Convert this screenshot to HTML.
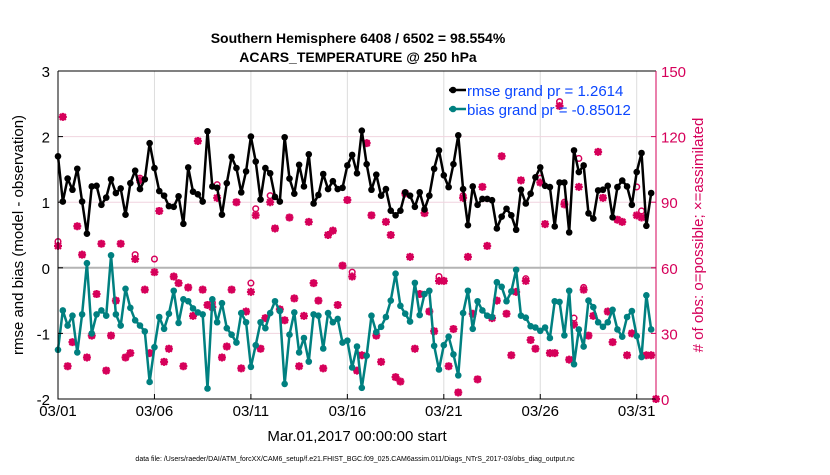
<!DOCTYPE html>
<html><head><meta charset="utf-8"><style>
body{margin:0;background:#fff;}
svg text{font-family:"Liberation Sans",Arial,sans-serif;}
</style></head><body>
<svg id="chart" width="830" height="470" viewBox="0 0 830 470" xmlns="http://www.w3.org/2000/svg">
<rect width="830" height="470" fill="#fff"/>
<g id="grid"></g>
<g id="marks"></g>
<g id="axes"></g>
<text x="358" y="43" text-anchor="middle" font-size="14" font-weight="bold">Southern Hemisphere 6408 / 6502 = 98.554%</text>
<text x="358" y="62" text-anchor="middle" font-size="14" font-weight="bold">ACARS_TEMPERATURE @ 250 hPa</text>
<text transform="translate(23,235) rotate(-90)" text-anchor="middle" font-size="15">rmse and bias (model - observation)</text>
<text transform="translate(703,235) rotate(-90)" text-anchor="middle" font-size="15" fill="#d6005a"># of obs: o=possible; ×=assimilated</text>
<text x="357" y="441" text-anchor="middle" font-size="15">Mar.01,2017 00:00:00 start</text>
<text x="355" y="461" text-anchor="middle" font-size="7">data file: /Users/raeder/DAI/ATM_forcXX/CAM6_setup/f.e21.FHIST_BGC.f09_025.CAM6assim.011/Diags_NTrS_2017-03/obs_diag_output.nc</text>
<g>
<line x1="449" y1="90" x2="466" y2="90" stroke="#000" stroke-width="2.5"/>
<circle cx="453" cy="90" r="3.3" fill="#000"/>
<text x="467" y="96" font-size="15" fill="#0a46ff">rmse grand pr = 1.2614</text>
<line x1="449" y1="109" x2="466" y2="109" stroke="#008080" stroke-width="2.5"/>
<circle cx="453" cy="109" r="3.3" fill="#008080"/>
<text x="467" y="115" font-size="15" fill="#0a46ff">bias grand pr = -0.85012</text>
</g>
</svg>
<script>
const rmse=[1.70,1.01,1.36,1.19,1.51,1.01,0.52,1.24,1.25,0.96,1.07,1.35,1.14,1.21,0.81,1.29,1.48,1.20,1.35,1.90,1.52,1.17,1.10,0.94,0.93,1.09,0.67,1.53,1.16,1.12,1.01,2.08,1.24,1.22,0.81,1.29,1.69,1.52,1.15,1.47,2.00,1.62,1.04,1.52,1.44,1.08,1.01,1.99,1.36,1.13,1.57,1.24,1.73,0.98,1.11,1.43,1.20,1.32,1.20,1.22,1.56,1.72,1.44,2.09,1.58,1.19,1.42,1.10,1.20,0.87,0.80,0.87,1.15,1.10,0.93,1.15,0.89,1.10,1.51,1.79,1.41,1.23,1.58,2.02,1.20,0.65,1.24,0.96,1.05,1.05,1.03,0.60,0.78,0.90,0.80,0.58,1.19,0.98,1.13,1.38,1.53,1.25,1.23,0.63,1.30,1.30,0.54,1.79,1.46,1.56,0.83,0.75,1.18,1.19,1.25,0.77,1.23,1.33,1.24,0.96,1.46,1.75,0.64,1.14];
const bias=[-1.25,-0.65,-0.88,-0.73,-1.29,-0.71,0.07,-1.00,-0.71,-0.65,-0.73,0.19,-0.71,-0.88,-0.32,-0.61,-0.80,-0.88,-0.97,-1.74,-1.21,-0.75,-0.93,-0.70,-0.35,-0.84,-0.48,-0.51,-0.62,-0.68,-0.71,-1.84,-0.48,-0.83,-0.54,-0.92,-1.02,-1.14,-0.69,-0.83,-1.51,-1.18,-0.83,-0.92,-0.69,-0.51,-0.66,-1.77,-1.02,-0.68,-1.29,-1.07,-1.43,-0.71,-0.73,-1.23,-0.69,-0.83,-0.78,-1.14,-1.11,-1.52,-1.20,-1.83,-1.34,-0.73,-0.98,-0.90,-0.75,-0.50,-0.09,-0.58,-0.70,-0.82,-0.23,-0.72,-0.40,-0.35,-1.19,-1.55,-1.18,-1.05,-1.32,-1.64,-0.69,-0.35,-0.93,-0.51,-0.65,-0.73,-0.75,-0.22,-0.29,-0.51,-0.36,-0.03,-0.73,-0.76,-0.89,-0.91,-0.96,-0.91,-1.07,-0.51,-0.52,-1.03,-0.35,-1.47,-0.94,-1.20,-0.50,-0.60,-0.83,-0.90,-0.83,-0.64,-0.94,-1.05,-0.75,-0.66,-1.04,-1.36,-0.42,-0.94];
const nAssim=[70,129,15,26,79,66,19,29,48,71,13,29,45,71,19,21,64,100,50,21,58,86,17,23,56,53,15,51,38,118,50,43,42,92,19,24,50,90,14,40,49,84,23,37,90,78,41,36,83,46,15,38,81,53,45,14,75,77,43,61,91,56,13,20,117,84,29,17,81,75,10,8,94,65,23,48,85,40,31,54,54,15,32,3,92,65,39,9,97,70,37,45,111,39,20,49,100,54,27,23,99,80,21,21,134,89,18,34,97,50,29,38,113,92,40,26,82,81,20,30,84,83,20,20,0];
const nPoss=[72,129,15,26,79,66,19,29,48,71,13,29,45,71,19,21,66,101,50,21,64,86,17,23,56,53,15,51,38,118,50,43,44,98,19,24,50,90,14,40,53,87,23,37,93,78,41,36,83,46,15,38,81,53,45,14,75,77,43,61,91,58,13,20,117,84,29,17,81,75,10,8,94,65,23,48,85,40,31,56,54,15,32,3,93,65,39,9,97,70,37,45,111,39,20,49,100,55,27,23,101,80,21,21,136,90,18,37,110,51,29,38,113,92,40,26,82,81,20,30,97,86,20,20,0];
const leftTicks=[3,2,1,0,-1,-2];
const rightTicks=[150,120,90,60,30,0];
const dayTicks=[1,6,11,16,21,26,31];
const dayLabels=['03/01','03/06','03/11','03/16','03/21','03/26','03/31'];

const X0=58,X1=656,Y0=71,Y1=399;
const xs=d=>X0+(d-1)/(32-1)*(X1-X0);
const yl=v=>Y1-(v+2)/5*(Y1-Y0);
const yr=v=>Y1-v/150*(Y1-Y0);
const dayOf=i=>1+i*0.25;
const NS='http://www.w3.org/2000/svg';
function mk(parent,tag,attrs){const e=document.createElementNS(NS,tag);for(const k in attrs)e.setAttribute(k,attrs[k]);parent.appendChild(e);return e;}
const grid=document.getElementById('grid'),marks=document.getElementById('marks'),axes=document.getElementById('axes');
const MAG='#d6005a';

dayTicks.forEach((d,i)=>{
  const g=mk(grid,'line',{x1:xs(d),x2:xs(d),y1:Y0,y2:Y1,stroke:'#dcdcdc','stroke-width':1});
  
  
  const t=mk(axes,'text',{x:xs(d),y:Y1+17,'text-anchor':'middle','font-size':15});
  t.textContent=dayLabels[i];
  
  
  const tk=mk(axes,'line',{x1:xs(d),x2:xs(d),y1:Y1,y2:Y1-5,stroke:'#000'});
  
  
});
rightTicks.forEach(v=>{
  const g=mk(grid,'line',{x1:X0,x2:X1,y1:yr(v),y2:yr(v),stroke:'#f0d4df','stroke-width':1});
  
  
  const t=mk(axes,'text',{x:X1+5,y:yr(v)+6,'font-size':15,fill:MAG});
  t.textContent=v;
  
  
  const tk=mk(axes,'line',{x1:X1,x2:X1-5,y1:yr(v),y2:yr(v),stroke:MAG});
  
  
});
leftTicks.forEach(v=>{
  const t=mk(axes,'text',{x:X0-8,y:yl(v)+6,'text-anchor':'end','font-size':15});
  t.textContent=v;
  
  
  const tk=mk(axes,'line',{x1:X0,x2:X0+5,y1:yl(v),y2:yl(v),stroke:'#000'});
  
  
});
const zl=mk(grid,'line',{x1:X0,x2:X1,y1:yl(0),y2:yl(0),stroke:'#b4b4b4','stroke-width':2});



// obs markers
nPoss.forEach((v,i)=>{
  const c=mk(marks,'circle',{cx:xs(dayOf(i)),cy:yr(v),r:2.8,fill:'none',stroke:MAG,'stroke-width':1.5});
  
  
});
nAssim.forEach((v,i)=>{
  const x=xs(dayOf(i)),y=yr(v),r=4;
  const p=mk(marks,'path',{d:`M${x-r},${y}H${x+r}M${x},${y-r}V${y+r}M${x-3},${y-3}L${x+3},${y+3}M${x-3},${y+3}L${x+3},${y-3}`,stroke:MAG,'stroke-width':2.2});
  
  
});
function series(arr,color,name){
  const pl=mk(marks,'polyline',{points:arr.map((v,i)=>xs(dayOf(i))+','+yl(v)).join(' '),fill:'none',stroke:color,'stroke-width':2.5,'stroke-linejoin':'round'});
  
  
  arr.forEach((v,i)=>{
    const c=mk(marks,'circle',{cx:xs(dayOf(i)),cy:yl(v),r:3.3,fill:color});
    
    
  });
}
series(bias,'#008080','bias');
series(rmse,'#000','rmse');

const fr1=mk(axes,'path',{d:`M${X0},${Y0}V${Y1}H${X1}`,fill:'none',stroke:'#000','stroke-width':1});


const fr2=mk(axes,'line',{x1:X0,x2:X1,y1:Y0,y2:Y0,stroke:'#000','stroke-width':1});


const fr3=mk(axes,'line',{x1:X1,x2:X1,y1:Y0,y2:Y1,stroke:MAG,'stroke-width':1});


</script>
</body></html>
